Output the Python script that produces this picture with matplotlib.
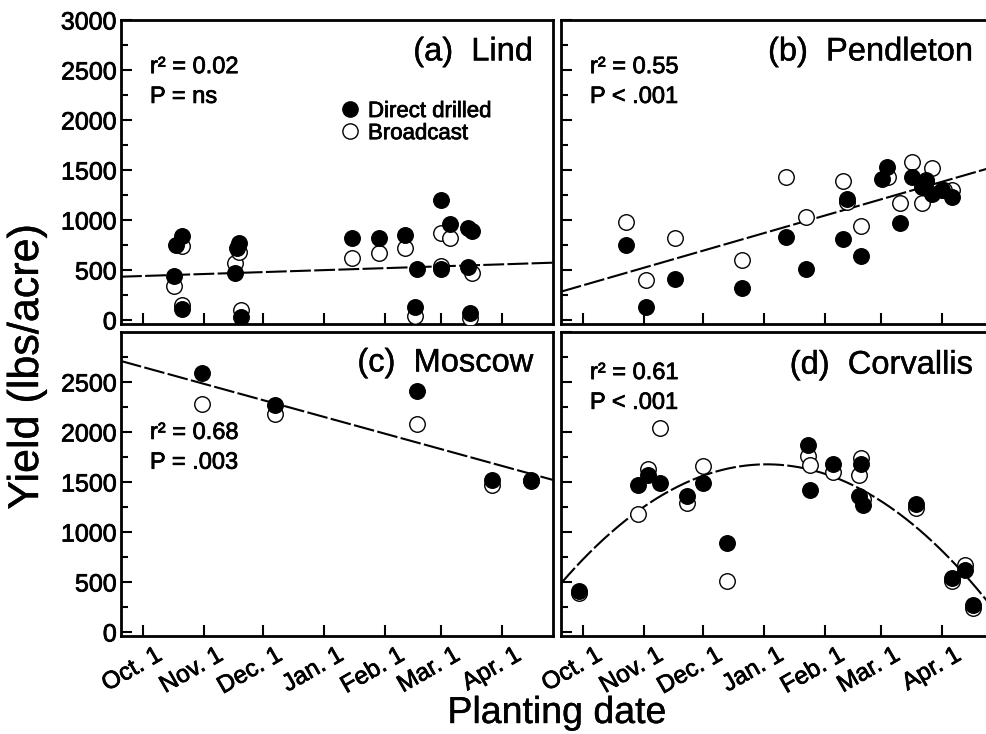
import numpy as np
import matplotlib
matplotlib.use("Agg")
import matplotlib.pyplot as plt
import matplotlib.patheffects as pe
from matplotlib.lines import Line2D
from matplotlib.text import Text
from matplotlib.transforms import ScaledTranslation

plt.rcParams['font.family'] = ['Liberation Sans', 'DejaVu Sans']

# planting date as days after Oct. 1
month_days = [0, 31, 61, 92, 123, 151, 182]
month_labels = ['Oct. 1', 'Nov. 1', 'Dec. 1', 'Jan. 1', 'Feb. 1', 'Mar. 1', 'Apr. 1']

# (a) Lind
lind_dd_day = [16, 17, 20, 20, 47, 48, 49, 50, 106, 120, 133, 139, 138, 151, 151, 156, 165, 167, 165, 166]
lind_dd_yield = [440, 750, 840, 110, 470, 720, 770, 30, 820, 820, 850, 510, 130, 1200, 510, 960, 920, 890, 530, 70]
lind_bc_day = [16, 20, 20, 47, 49, 50, 106, 120, 133, 138, 151, 156, 151, 167, 166]
lind_bc_yield = [340, 740, 150, 570, 680, 100, 620, 670, 720, 40, 870, 820, 540, 470, 20]
lind_fit = [0.64, 440]

# (b) Pendleton
pend_dd_day = [22, 32, 47, 81, 103, 113, 132, 134, 141, 151.5, 154.5, 161, 167, 172, 174, 177, 182, 187]
pend_dd_yield = [750, 130, 410, 320, 830, 510, 810, 1210, 640, 1410, 1530, 970, 1430, 1330, 1390, 1260, 1300, 1230]
pend_bc_day = [22, 32, 47, 81, 103, 113, 132, 134, 141, 155, 161, 167, 172, 177, 174, 187, 183]
pend_bc_yield = [980, 400, 820, 600, 1430, 1030, 1390, 1180, 940, 1430, 1170, 1580, 1170, 1520, 1400, 1300, 1300]
pend_fit = [5.69, 346]

# (c) Moscow
mosc_dd_day = [30, 67, 139, 177, 197]
mosc_dd_yield = [2590, 2270, 2410, 1520, 1520]
mosc_bc_day = [30, 67, 139, 177, 197]
mosc_bc_yield = [2280, 2180, 2080, 1470, 1510]
mosc_fit = [-5.43, 2650]

# (d) Corvallis
corv_dd_day = [-2, 28, 33, 39, 53, 61, 73, 114, 115, 127, 141, 140, 142, 169, 187, 194, 198]
corv_dd_yield = [410, 1470, 1570, 1490, 1360, 1490, 890, 1870, 1420, 1680, 1680, 1360, 1270, 1280, 540, 620, 270]
corv_bc_day = [-2, 28, 33, 39, 53, 61, 73, 114, 115, 127, 141, 140, 142, 169, 187, 194, 198]
corv_bc_yield = [390, 1180, 1630, 2040, 1290, 1660, 510, 1760, 1670, 1600, 1740, 1570, 1330, 1240, 510, 670, 240]
corv_fit = [-0.1095, 20.43, 723.8]

XLIM = (-11, 208)
YLIM = (-40, 3000)

heavy = [pe.withStroke(linewidth=0.55, foreground='black')]
light = [pe.withStroke(linewidth=0.3, foreground='black')]


def panel(ax, dd_x, dd_y, bc_x, bc_y, fit, title, stats, stats_xy, ylabels, xlabels):
    # regression line across the whole panel
    xs = np.linspace(XLIM[0], XLIM[1], 300)
    ax.plot(xs, np.polyval(fit, xs), color='black', lw=1.5, ls=(0, (10, 1.6)), zorder=2)
    ax.scatter(bc_x, bc_y, s=125, facecolor='white', edgecolor='black', linewidth=1.0, zorder=3)
    ax.scatter(dd_x, dd_y, s=125, facecolor='black', edgecolor='black', linewidth=1.0, zorder=4)

    ax.set_xlim(XLIM)
    ax.set_ylim(YLIM)
    for s in ax.spines.values():
        s.set_linewidth(2.0)

    ax.set_xticks(month_days)
    ax.set_yticks(ylabels)
    ax.set_yticks(np.arange(250, 3000, 500), minor=True)
    ax.tick_params(direction='in', length=8, width=1.5, labelsize=18, pad=3)
    ax.tick_params(which='minor', direction='in', length=5, width=1.5)
    ax.tick_params(top=False, right=False)

    if xlabels:
        ax.set_xticklabels(month_labels, rotation=30, ha='right', va='top',
                           rotation_mode='anchor', fontsize=17.5)
        ax.tick_params(axis='x', pad=6)
        off = ScaledTranslation(12 / 100, 0, ax.figure.dpi_scale_trans)
        for lab in ax.get_xticklabels():
            lab.set_transform(lab.get_transform() + off)
    else:
        ax.set_xticklabels([])
    for lab in ax.get_xticklabels() + ax.get_yticklabels():
        lab.set_path_effects(heavy)

    ax.text(0.954, stats_xy[2], title, transform=ax.transAxes, ha='right', va='center',
            fontsize=23.5, path_effects=light)
    ax.text(stats_xy[0], stats_xy[1], stats[0], transform=ax.transAxes, ha='left', va='center',
            fontsize=17, path_effects=heavy)
    ax.text(stats_xy[0], stats_xy[1] - 0.098, stats[1], transform=ax.transAxes, ha='left', va='center',
            fontsize=17, path_effects=heavy)


def main():
    fig = plt.figure(figsize=(9.87, 7.34), dpi=100)
    W, H = 987.0, 734.0
    w = 432 / W
    h = 304 / H
    ax_a = fig.add_axes([121 / W, 1 - 324 / H, w, h])
    ax_b = fig.add_axes([561 / W, 1 - 324 / H, w, h])
    ax_c = fig.add_axes([121 / W, 1 - 636 / H, w, h])
    ax_d = fig.add_axes([561 / W, 1 - 636 / H, w, h])

    panel(ax_a, lind_dd_day, lind_dd_yield, lind_bc_day, lind_bc_yield, lind_fit,
          '(a)  Lind', ['r\u00b2 = 0.02', 'P = ns'], (0.067, 0.845, 0.895),
          np.arange(0, 3001, 500), False)
    panel(ax_b, pend_dd_day, pend_dd_yield, pend_bc_day, pend_bc_yield, pend_fit,
          '(b)  Pendleton', ['r\u00b2 = 0.55', 'P < .001'], (0.067, 0.845, 0.895),
          np.arange(0, 3001, 500), False)
    panel(ax_c, mosc_dd_day, mosc_dd_yield, mosc_bc_day, mosc_bc_yield, mosc_fit,
          '(c)  Moscow', ['r\u00b2 = 0.68', 'P = .003'], (0.067, 0.668, 0.898),
          np.arange(0, 2501, 500), True)
    panel(ax_d, corv_dd_day, corv_dd_yield, corv_bc_day, corv_bc_yield, corv_fit,
          '(d)  Corvallis', ['r\u00b2 = 0.61', 'P < .001'], (0.067, 0.865, 0.891),
          np.arange(0, 3001, 500), True)
    ax_b.set_yticklabels([])
    ax_d.set_yticklabels([])

    # legend in panel (a)
    handles = [Line2D([], [], ls='none', marker='o', ms=11, mfc='black', mec='black'),
               Line2D([], [], ls='none', marker='o', ms=11, mfc='white', mec='black')]
    leg = ax_a.legend(handles, ['Direct drilled', 'Broadcast'], loc='upper left',
                      bbox_to_anchor=(0.474, 0.77), frameon=False, fontsize=16,
                      handletextpad=0.2, labelspacing=0.05, borderpad=0, handlelength=1.2)
    for t in leg.get_texts():
        t.set_path_effects(heavy)

    fig.text(557 / W, 1 - 713 / H, 'Planting date', ha='center', va='center',
             fontsize=27, path_effects=light)
    fig.text(27 / W, 1 - 367 / H, 'Yield (lbs/acre)', ha='center', va='center',
             rotation=90, fontsize=31, path_effects=light)

    fig.savefig('out.png', dpi=100)


main()
